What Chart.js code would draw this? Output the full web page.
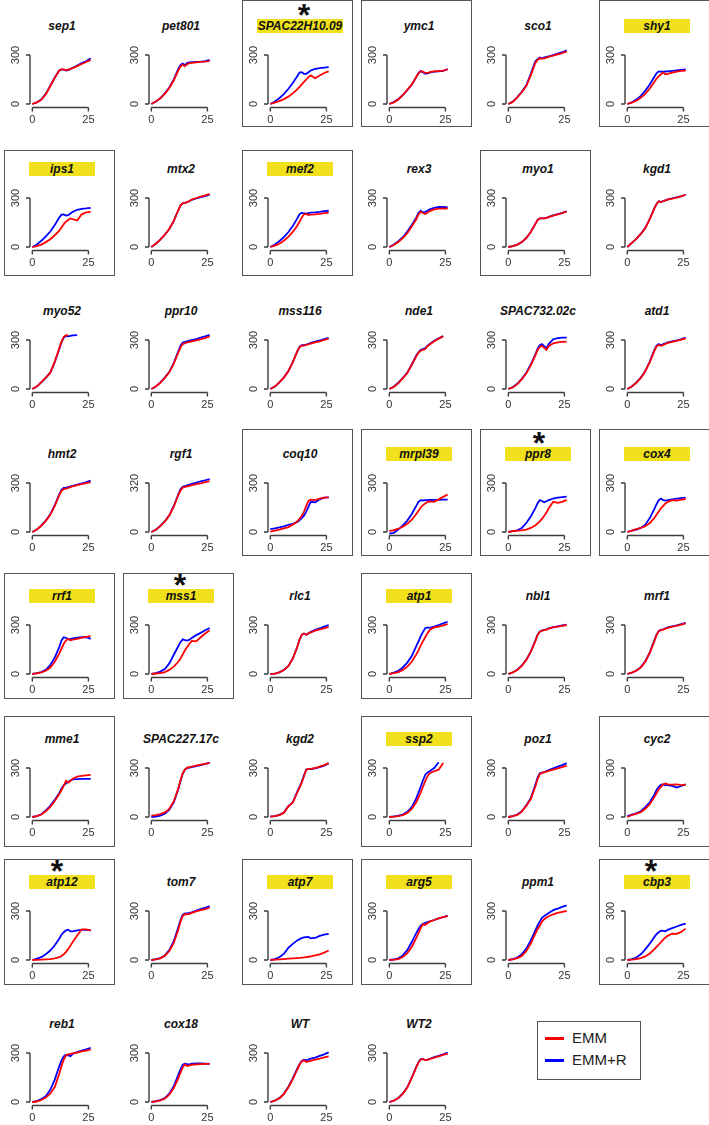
<!doctype html>
<html>
  <head>
    <title>Growth curves EMM vs EMM+R</title>
    <script src="https://cdn.jsdelivr.net/npm/chart.js@4.4.1/dist/chart.umd.min.js"></script>
    <style>
      body { margin: 0; background: #fff; }
      #grid { position: relative; width: 709px; height: 1125px; font-family: "Liberation Sans", Arial, sans-serif; }
      #grid canvas { position: absolute; }
      .box { position: absolute; width: 111px; box-sizing: border-box; border: 1.5px solid #555; }
      .title { position: absolute; width: 120px; height: 19px; line-height: 19px; text-align: center;
               font: italic bold 12px "Liberation Sans", Arial, sans-serif; color: #111; white-space: nowrap; }
      .title span { display: inline-block; padding: 0 1px; }
      .title span.hl { background: #f0e11c; min-width: 64px; }
      .star { position: absolute; width: 30px; text-align: center; font: bold 32px "Liberation Sans", Arial, sans-serif;
              line-height: 32px; color: #111; }
      #legend { position: absolute; left: 537px; top: 1021px; width: 104px; height: 59px; box-sizing: border-box;
                border: 1.5px solid #555; font-size: 15px; color: #222; }
      #legend div { position: absolute; left: 7px; height: 20px; line-height: 20px; }
      #legend i { display: inline-block; width: 19px; height: 3px; vertical-align: middle; margin-right: 8px; margin-top: -2px; }
    </style>
  </head>
  <body>
    <div id="grid">
      <div id="legend">
        <div style="top: 6px"><i style="background:#ff0000"></i>EMM</div>
        <div style="top: 28px"><i style="background:#0000ff"></i>EMM+R</div>
      </div>
    </div>
    <script>
      // sampling times (x values) shared by every curve
      const times = [0, 2, 4, 6, 8, 10, 12, 13, 14, 15, 16, 17, 18, 20, 22, 24, 26];
      const xTicks = [0, 25];

      const genes = ["sep1", "pet801", "SPAC22H10.09", "ymc1", "sco1", "shy1",
        "ips1", "mtx2", "mef2", "rex3", "myo1", "kgd1",
        "myo52", "ppr10", "mss116", "nde1", "SPAC732.02c", "atd1",
        "hmt2", "rgf1", "coq10", "mrpl39", "ppr8", "cox4",
        "rrf1", "mss1", "rlc1", "atp1", "nbl1", "mrf1",
        "mme1", "SPAC227.17c", "kgd2", "ssp2", "poz1", "cyc2",
        "atp12", "tom7", "atp7", "arg5", "ppm1", "cbp3",
        "reb1", "cox18", "WT", "WT2"];

      // EMM (red)
      const emm = [
        [0,10,25,60,110,160,205,212,212,208,210,215,220,232,245,257,270],
        [0,15,35,62,98,145,205,230,240,232,245,250,252,255,258,260,264],
        [0,8,18,30,45,65,90,105,120,135,150,165,175,158,175,190,200],
        [0,10,28,55,87,120,165,188,200,198,190,190,195,200,202,205,212],
        [0,13,40,72,110,175,250,270,280,278,280,284,288,296,304,312,322],
        [0,8,20,38,62,95,135,155,170,182,192,182,185,192,198,203,205],
        [0,6,15,30,48,72,100,120,140,155,165,175,170,162,200,212,215],
        [0,20,45,75,110,160,225,255,268,270,275,282,290,300,308,316,325],
        [0,8,20,38,62,92,130,155,180,200,203,195,198,200,203,207,210],
        [0,12,30,55,85,125,170,200,215,208,202,210,220,230,235,237,235],
        [0,5,15,30,55,92,140,165,175,175,175,178,183,192,200,208,218],
        [0,25,50,80,115,170,235,262,280,275,280,285,290,296,302,310,320],
        [0,15,42,70,100,168,250,290,320,330,328,null,null,null,null,null,null],
        [0,15,38,68,102,155,222,255,275,280,285,288,292,298,305,312,322],
        [0,15,40,70,108,165,230,255,265,265,270,274,278,285,292,300,308],
        [0,13,36,65,98,148,200,222,235,240,245,262,272,292,308,322,null],
        [0,10,30,60,96,145,205,238,258,265,252,240,262,280,285,288,290],
        [0,15,38,68,108,165,232,260,270,265,270,276,282,288,295,302,310],
        [0,15,38,68,105,160,225,252,262,265,270,275,280,287,293,300,305],
        [0,15,38,68,108,165,240,272,290,295,298,302,306,312,318,325,332],
        [2,8,15,22,30,45,65,80,100,125,160,190,198,195,205,210,212],
        [5,12,20,32,50,75,110,130,150,165,175,185,188,185,200,215,230],
        [0,5,8,10,15,25,40,52,65,80,100,120,145,185,178,185,197],
        [0,8,18,25,35,55,85,105,125,145,160,175,185,195,192,198,202],
        [0,4,10,20,40,75,125,155,185,205,215,207,210,215,222,228,232],
        [0,3,6,12,25,45,75,95,120,145,165,185,203,200,225,248,268],
        [0,2,10,25,48,95,165,210,240,248,240,248,255,265,273,280,288],
        [0,5,12,25,45,75,120,145,175,200,225,250,270,285,290,298,305],
        [0,10,25,50,85,135,200,238,258,265,268,272,278,285,290,295,300],
        [0,8,20,40,75,130,200,238,262,268,272,278,282,290,295,302,310],
        [0,5,15,35,62,98,140,165,190,222,210,220,235,248,252,255,258],
        [8,12,18,28,50,95,175,225,268,292,302,305,308,315,320,326,332],
        [3,5,12,25,65,88,150,180,210,250,290,295,295,300,308,318,330],
        [0,2,6,12,25,50,90,120,150,185,220,250,268,280,290,330,null],
        [0,5,13,33,68,110,185,230,262,270,275,278,282,290,298,305,315],
        [0,12,20,30,50,78,120,145,170,185,200,205,200,198,200,195,198],
        [0,1,2,4,6,10,17,25,35,50,68,88,110,150,188,188,182],
        [0,4,10,25,55,105,185,235,270,280,280,283,288,298,305,312,320],
        [0,2,4,6,8,10,12,13,15,16,18,20,22,28,35,45,58],
        [0,2,6,18,42,80,135,165,195,220,215,225,235,245,255,262,268],
        [0,4,12,25,55,100,160,188,210,235,250,260,268,280,288,295,300],
        [0,2,6,12,22,40,65,80,95,110,125,138,148,162,160,172,192],
        [0,3,12,28,51,92,173,220,259,285,292,295,298,303,310,315,322],
        [0,4,10,20,45,85,145,180,212,230,220,224,228,230,232,234,233],
        [0,8,22,48,88,140,198,228,248,255,245,248,252,260,266,273,280],
        [0,8,24,50,88,148,212,242,260,262,256,258,263,272,280,288,296]
      ];

      // EMM+R (blue)
      const emmR = [
        [0,10,28,62,112,162,205,212,210,205,208,215,222,236,250,262,280],
        [0,15,35,65,100,150,215,240,248,238,252,255,256,258,260,263,270],
        [0,15,35,60,92,128,170,192,195,185,185,195,205,215,220,223,226],
        [0,12,30,55,85,118,165,190,203,195,185,188,192,198,200,203,213],
        [0,15,42,75,115,185,260,275,285,280,285,288,292,300,308,317,328],
        [0,10,27,50,82,120,165,188,200,198,198,199,200,203,206,209,212],
        [0,15,38,65,95,135,180,198,200,193,195,205,215,228,233,236,240],
        [0,20,45,75,110,160,225,255,268,270,275,282,288,297,305,312,320],
        [0,15,35,60,90,128,175,200,210,205,205,207,210,212,215,220,222],
        [0,15,35,60,95,135,180,210,222,212,215,222,230,240,245,245,243],
        [0,5,15,30,55,92,140,165,175,175,176,179,184,193,201,209,219],
        [0,25,50,80,117,172,237,263,280,276,281,286,291,297,304,311,320],
        [0,15,40,68,100,165,245,285,315,325,322,325,328,330,null,null,null],
        [0,15,40,70,105,160,230,265,285,288,292,296,300,306,314,322,332],
        [0,15,40,70,108,165,230,258,268,268,272,277,282,290,297,305,313],
        [0,15,38,68,100,150,205,225,240,245,250,265,275,295,310,325,null],
        [0,12,32,62,100,150,210,245,268,275,262,250,275,305,312,314,315],
        [0,15,40,70,110,168,238,265,275,268,275,280,285,292,298,305,315],
        [0,15,40,70,108,165,230,258,270,272,275,280,283,290,297,305,315],
        [0,15,40,70,110,170,245,280,295,300,305,310,315,322,330,338,345],
        [17,22,28,35,43,50,62,72,85,100,125,155,185,182,200,210,212],
        [-10,-5,15,40,70,110,160,185,195,193,195,195,196,197,197,198,198],
        [0,5,10,25,55,95,145,175,195,190,182,188,195,205,210,213,216],
        [0,8,15,25,45,85,140,170,195,205,195,192,195,200,205,208,210],
        [0,5,12,25,55,100,165,205,225,222,212,215,218,222,225,225,215],
        [0,5,15,30,65,118,170,195,212,208,205,210,220,238,252,268,282],
        [0,2,10,25,48,95,165,210,240,248,240,250,258,270,280,290,300],
        [0,8,20,40,70,110,170,200,232,258,280,285,283,290,300,310,320],
        [0,10,26,52,87,137,203,240,260,266,270,274,280,287,292,297,302],
        [0,8,21,42,77,133,204,241,264,270,274,280,285,292,298,305,313],
        [0,5,17,40,68,105,145,175,195,205,215,225,230,232,233,233,233],
        [0,3,8,20,45,90,170,220,265,290,300,302,305,312,318,325,332],
        [2,5,13,27,66,90,155,185,215,255,290,293,293,298,305,315,328],
        [0,3,8,15,32,60,114,150,186,225,259,272,280,300,335,null,null],
        [0,5,15,35,72,115,195,240,268,272,275,282,288,298,308,318,330],
        [5,15,22,35,60,90,135,165,185,198,198,195,195,190,180,190,200],
        [0,8,17,35,58,90,130,155,170,182,186,175,175,182,185,185,182],
        [0,5,12,28,60,115,200,245,278,285,285,288,292,302,312,320,330],
        [0,5,17,37,74,99,120,128,134,138,140,141,132,135,148,155,160],
        [0,3,10,28,60,110,165,190,210,222,228,232,236,245,255,263,272],
        [0,5,15,35,70,120,180,210,235,258,270,278,288,305,315,325,335],
        [0,5,15,35,65,100,140,158,170,180,178,176,185,195,205,215,222],
        [0,5,18,35,75,137,218,255,280,290,285,280,295,305,315,322,332],
        [0,5,12,24,51,96,167,200,228,235,232,230,235,236,236,235,233],
        [0,8,24,50,92,145,204,232,252,259,255,260,265,272,282,292,304],
        [0,8,25,52,90,150,215,245,262,263,257,260,265,275,283,292,303]
      ];

      // top y tick of each panel (rgf1 is labelled 320)
      const yTickTop = genes.map((g) => (g === "rgf1" ? 320 : 300));

      const highlighted = ["SPAC22H10.09", "shy1", "ips1", "mef2", "mrpl39", "ppr8", "cox4",
        "rrf1", "mss1", "atp1", "ssp2", "atp12", "atp7", "arg5", "cbp3"];
      const boxed = ["SPAC22H10.09", "ymc1", "shy1", "ips1", "mef2", "myo1", "coq10", "mrpl39",
        "ppr8", "cox4", "rrf1", "mss1", "atp1", "mme1", "ssp2", "cyc2", "atp12", "atp7", "arg5", "cbp3"];
      const starred = ["SPAC22H10.09", "ppr8", "mss1", "atp12", "cbp3"];
      const starX = { "SPAC22H10.09": 62, ppr8: 59, mss1: 57, atp12: 53, cbp3: 52 };

      // box edges per row, relative to the 300 tick
      const boxTop = [-55, -48, -54, -54, -52, -52, -52, -52];
      const boxBottom = [72, 78, 73, 73, 74, 79, 74, 74];

      // R-style axes: lines only over the tick range
      const rAxes = {
        id: "rAxes",
        afterDraw(chart, args, opts) {
          const { ctx, chartArea } = chart;
          const x = chart.scales.x, y = chart.scales.y;
          const ax = chartArea.left, ay = chartArea.bottom;
          const yTicks = [0, opts.yTop];
          ctx.save();
          ctx.strokeStyle = "#3c3c3c";
          ctx.lineWidth = 1.4;
          ctx.beginPath();
          ctx.moveTo(ax, y.getPixelForValue(0));
          ctx.lineTo(ax, y.getPixelForValue(opts.yTop));
          yTicks.forEach((v) => {
            const p = y.getPixelForValue(v);
            ctx.moveTo(ax, p);
            ctx.lineTo(ax - 4, p);
          });
          ctx.moveTo(x.getPixelForValue(xTicks[0]), ay);
          ctx.lineTo(x.getPixelForValue(xTicks[1]), ay);
          xTicks.forEach((v) => {
            const p = x.getPixelForValue(v);
            ctx.moveTo(p, ay);
            ctx.lineTo(p, ay + 4);
          });
          ctx.stroke();
          ctx.fillStyle = "#333";
          ctx.font = '11px "Liberation Sans", Arial, sans-serif';
          ctx.textAlign = "center";
          ctx.textBaseline = "middle";
          xTicks.forEach((v) => ctx.fillText(String(v), x.getPixelForValue(v), ay + 12));
          yTicks.forEach((v) => {
            ctx.save();
            ctx.translate(ax - 14, y.getPixelForValue(v));
            ctx.rotate(-Math.PI / 2);
            ctx.fillText(String(v), 0, 0);
            ctx.restore();
          });
          ctx.restore();
        },
      };

      const grid = document.getElementById("grid");

      genes.forEach((name, i) => {
        const row = Math.floor(i / 6), col = i % 6;
        const left = 4 + col * 119;
        const tick = Math.round(55 + row * 142.6);

        if (boxed.includes(name)) {
          const b = document.createElement("div");
          b.className = "box";
          b.style.left = left + "px";
          b.style.top = tick + boxTop[row] + "px";
          b.style.height = boxBottom[row] - boxTop[row] + "px";
          grid.appendChild(b);
        }

        const t = document.createElement("div");
        t.className = "title";
        t.style.left = left + 58 - 60 + "px";
        t.style.top = tick - 36 + "px";
        const s = document.createElement("span");
        s.textContent = name;
        if (highlighted.includes(name)) s.className = "hl";
        t.appendChild(s);
        grid.appendChild(t);

        if (starred.includes(name)) {
          const st = document.createElement("div");
          st.className = "star";
          st.textContent = "*";
          st.style.left = left + starX[name] - 15 + "px";
          st.style.top = tick - 56 + "px";
          grid.appendChild(st);
        }

        const canvas = document.createElement("canvas");
        canvas.width = 111;
        canvas.height = 126;
        canvas.style.left = left + "px";
        canvas.style.top = tick - 52 + "px";
        grid.appendChild(canvas);

        const k = yTickTop[i] / 300;
        new Chart(canvas, {
          type: "line",
          data: {
            datasets: [
              { label: "EMM", data: times.map((x, j) => ({ x: x, y: emm[i][j] })), borderColor: "#ff0000" },
              { label: "EMM+R", data: times.map((x, j) => ({ x: x, y: emmR[i][j] })), borderColor: "#0000ff" },
            ],
          },
          options: {
            responsive: false,
            animation: false,
            events: [],
            layout: { padding: { left: 26, right: 22, top: 40, bottom: 21.5 } },
            elements: { point: { radius: 0 }, line: { borderWidth: 1.8, tension: 0 } },
            scales: {
              x: { type: "linear", display: false, min: -1.04, max: 27.04 },
              y: { display: false, min: -21.4 * k, max: 373.5 * k },
            },
            plugins: { legend: { display: false }, tooltip: { enabled: false }, rAxes: { yTop: yTickTop[i] } },
          },
          plugins: [rAxes],
        });
      });
    </script>
  </body>
</html>
